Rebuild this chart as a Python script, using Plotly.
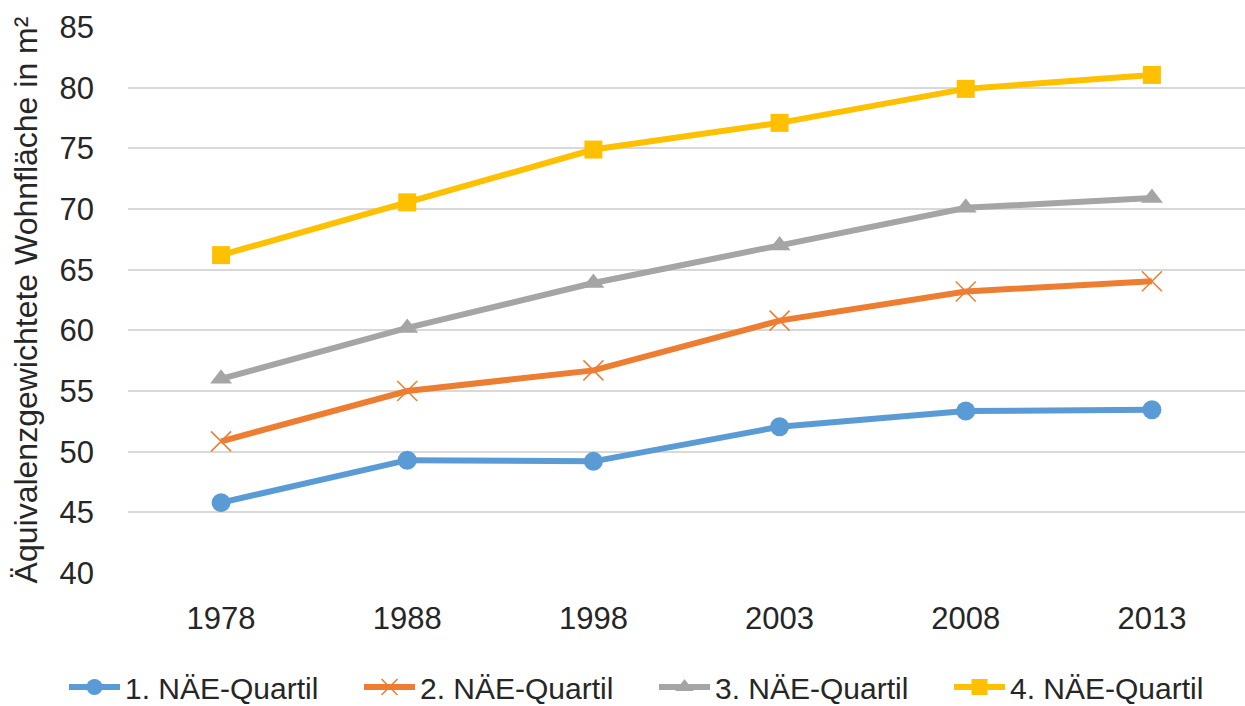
import plotly.graph_objects as go

years = ["1978", "1988", "1998", "2003", "2008", "2013"]
q1 = [45.8, 49.3, 49.2, 52.05, 53.35, 53.45]
q2 = [50.85, 55.0, 56.7, 60.8, 63.2, 64.05]
q3 = [56.0, 60.2, 63.9, 67.0, 70.1, 70.9]
q4 = [66.2, 70.55, 74.9, 77.1, 79.9, 81.05]
names = ["1. NÄE-Quartil", "2. NÄE-Quartil", "3. NÄE-Quartil", "4. NÄE-Quartil"]
y_ticks = [40, 45, 50, 55, 60, 65, 70, 75, 80, 85]

colors = ["#5B9BD5", "#ED7D31", "#A5A5A5", "#FFC000"]
symbols = ["circle", "x-thin", "triangle-up", "square"]
sizes = [19, 20, 19, 18]

FONT = "Liberation Sans"
fig = go.Figure()
for vals, name, col, sym, sz in zip([q1, q2, q3, q4], names, colors, symbols, sizes):
    marker = dict(symbol=sym, size=sz, color=col)
    if sym == "x-thin":
        marker["line"] = dict(color=col, width=1.5)
    fig.add_trace(go.Scatter(
        x=years, y=vals, name=name, mode="lines+markers",
        line=dict(color=col, width=6), marker=marker,
    ))

fig.update_layout(
    width=1245, height=706,
    margin=dict(l=128, r=0, t=27, b=133, autoexpand=False),
    paper_bgcolor="white", plot_bgcolor="white",
    font=dict(family=FONT, size=30, color="#262626"),
    showlegend=True,
    legend=dict(orientation="h", xref="paper", yref="paper",
                x=-0.0573, xanchor="left", y=-0.2088, yanchor="middle",
                font=dict(size=30, color="#262626"), itemwidth=51,
                entrywidth=229, entrywidthmode="pixels", tracegroupgap=0),
    xaxis=dict(type="category", range=[-0.5, 5.5], showgrid=False, showline=False,
               ticks="", tickfont=dict(size=31), automargin=False, ticklabelstandoff=24),
    yaxis=dict(range=[40, 85], tickvals=y_ticks, showgrid=True, gridcolor="#D9D9D9",
               gridwidth=2, zeroline=False, showline=False, ticks="",
               tickfont=dict(size=31), ticklabelstandoff=33, automargin=False,
               title=dict(text="Äquivalenzgewichtete Wohnfläche in m²", font=dict(size=32), standoff=12)),
)

fig.write_html("out.html", config={"displayModeBar": False},
               post_script="document.body.style.margin='0';document.body.style.overflow='hidden';")
